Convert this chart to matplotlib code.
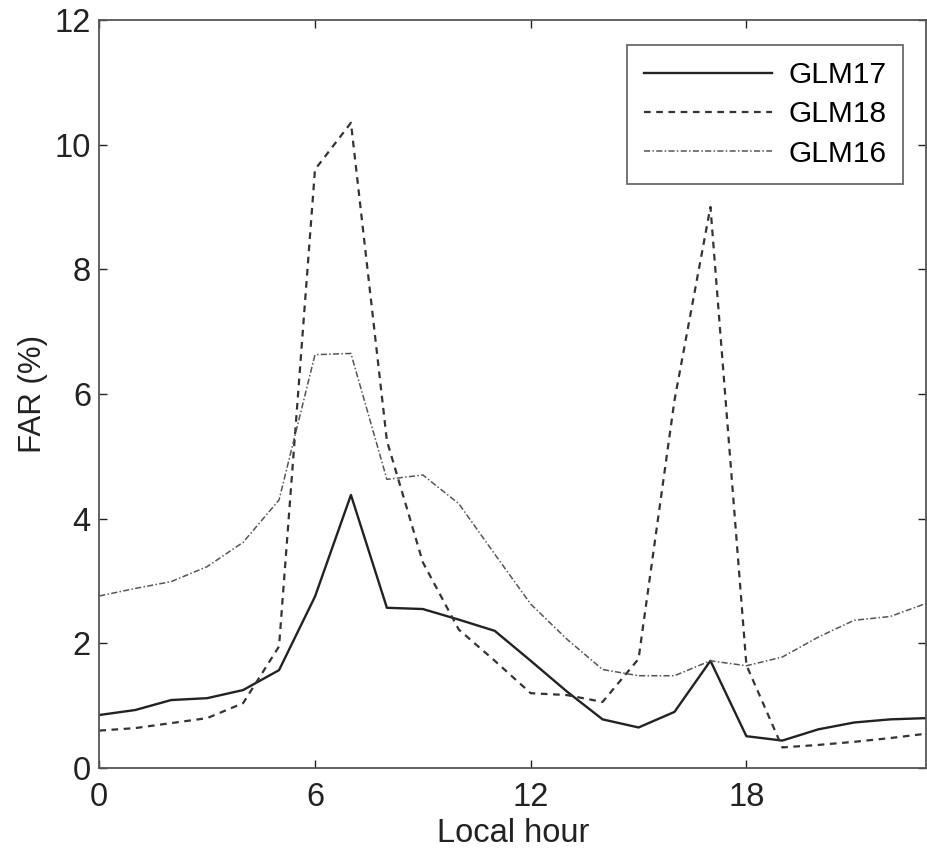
import matplotlib
matplotlib.use("Agg")
import matplotlib.pyplot as plt

hours = list(range(24))

glm17 = [0.85, 0.93, 1.09, 1.12, 1.25, 1.57, 2.75, 4.38, 2.57, 2.55, 2.38, 2.2,
         1.72, 1.23, 0.78, 0.65, 0.9, 1.72, 0.51, 0.44, 0.62, 0.73, 0.78, 0.8]
glm18 = [0.6, 0.64, 0.72, 0.8, 1.04, 1.95, 9.6, 10.35, 5.25, 3.3, 2.22, 1.72,
         1.2, 1.17, 1.06, 1.75, 5.9, 9.0, 1.65, 0.33, 0.37, 0.42, 0.48, 0.55]
glm16 = [2.76, 2.88, 2.99, 3.23, 3.62, 4.3, 6.63, 6.65, 4.63, 4.7, 4.24, 3.43,
         2.63, 2.07, 1.58, 1.48, 1.48, 1.72, 1.64, 1.78, 2.1, 2.37, 2.43, 2.64]

plt.rcParams['font.family'] = ['Liberation Sans', 'DejaVu Sans']

fig = plt.figure(figsize=(9.28, 8.52), dpi=100)
ax = fig.add_axes([0.107, 0.0986, 0.891, 0.878])

ax.plot(hours, glm17, color='#222222', lw=1.7, ls='-', label='GLM17')
ax.plot(hours, glm18, color='#333333', lw=1.6, ls=(0, (3, 2.5)), label='GLM18')
ax.plot(hours, glm16, color='#555555', lw=1.1, ls=(0, (4, 1.5, 1, 1.5)), label='GLM16')

ax.set_xlim(0, 23)
ax.set_ylim(0, 12)
ax.set_xticks([0, 6, 12, 18])
ax.set_yticks(range(0, 13, 2))
ax.tick_params(direction='in', top=True, right=True, labelsize=23.5, length=6, width=1,
               colors='#222222')
ax.tick_params(axis='x', pad=10)
ax.tick_params(axis='y', pad=6)
for s in ax.spines.values():
    s.set_color('#555555')
    s.set_linewidth(1.3)

ax.set_xlabel('Local hour', fontsize=23.5, color='#222222', labelpad=4)
ax.set_ylabel('FAR (%)', fontsize=22.5, color='#222222', labelpad=5)

leg = ax.legend(loc='upper right', bbox_to_anchor=(0.972, 0.967), fontsize=21.5,
                handlelength=4.3, frameon=True, fancybox=False, edgecolor='#444444',
                borderpad=0.55, labelspacing=0.38, handletextpad=0.55, borderaxespad=0)
leg.get_frame().set_linewidth(1.3)

fig.savefig('out.png', dpi=100)
